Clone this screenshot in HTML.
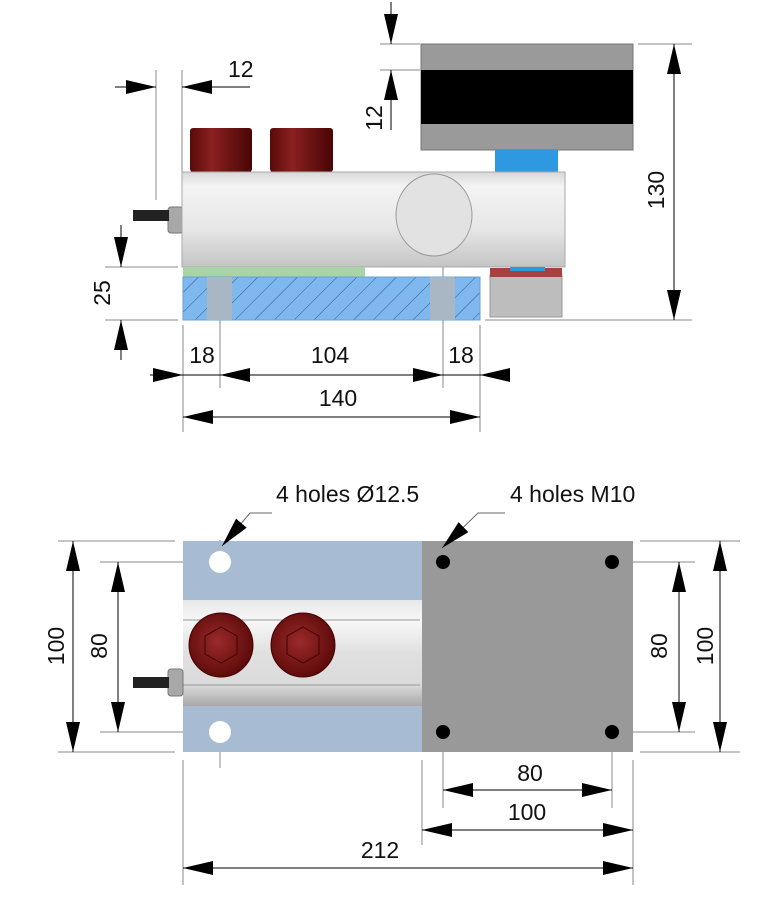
<!DOCTYPE html>
<html><head><meta charset="utf-8"><style>
html,body{margin:0;padding:0;background:#fff;width:768px;height:921px;overflow:hidden}
svg text{font-family:"Liberation Sans",sans-serif;font-size:23px;fill:#111}
</style></head><body>
<svg width="768" height="921" viewBox="0 0 768 921" xmlns="http://www.w3.org/2000/svg">
<defs>
<marker id="a" viewBox="0 0 10 10" refX="10" refY="5" markerUnits="userSpaceOnUse" markerWidth="30" markerHeight="14" orient="auto-start-reverse" preserveAspectRatio="none"><path d="M0,0 L10,5 L0,10 z" fill="#000"/></marker>
<linearGradient id="body" x1="0" y1="0" x2="0" y2="1"><stop offset="0" stop-color="#d8d8d8"/><stop offset="0.15" stop-color="#f4f4f4"/><stop offset="0.6" stop-color="#e6e6e6"/><stop offset="1" stop-color="#c4c4c4"/></linearGradient>
<linearGradient id="red" x1="0" y1="0" x2="1" y2="0"><stop offset="0" stop-color="#5a0a0a"/><stop offset="0.35" stop-color="#8a2020"/><stop offset="1" stop-color="#4a0505"/></linearGradient>
<linearGradient id="band" x1="0" y1="0" x2="0" y2="1"><stop offset="0" stop-color="#e8e8e8"/><stop offset="0.2" stop-color="#f7f7f7"/><stop offset="0.5" stop-color="#e0e0e0"/><stop offset="0.8" stop-color="#dadada"/><stop offset="1" stop-color="#a8a8a8"/></linearGradient>
<pattern id="hatch" width="14" height="14" patternUnits="userSpaceOnUse" patternTransform="rotate(45)"><rect width="14" height="14" fill="#7fb8ee"/><line x1="0" y1="0" x2="0" y2="14" stroke="#2d5a8a" stroke-width="1"/></pattern>
<radialGradient id="cap" cx="0.45" cy="0.45" r="0.6"><stop offset="0" stop-color="#9a2a2a"/><stop offset="1" stop-color="#5a0808"/></radialGradient>
</defs>
<g stroke="#888" stroke-width="1" fill="none">
<!-- top view extension lines -->
<line x1="156" y1="70" x2="156" y2="200"/><line x1="182" y1="70" x2="182" y2="172"/>
<line x1="380" y1="44" x2="420" y2="44"/><line x1="380" y1="70" x2="420" y2="70"/>
<line x1="638" y1="44" x2="692" y2="44"/><line x1="485" y1="320" x2="692" y2="320"/>
<line x1="105" y1="267" x2="178" y2="267"/><line x1="105" y1="320" x2="178" y2="320"/>
<line x1="183" y1="325" x2="183" y2="432"/><line x1="220" y1="262" x2="220" y2="388"/>
<line x1="443" y1="262" x2="443" y2="388"/><line x1="480" y1="325" x2="480" y2="432"/>
<!-- bottom view ext -->
<line x1="58" y1="541" x2="175" y2="541"/><line x1="58" y1="752" x2="175" y2="752"/>
<line x1="100" y1="562" x2="250" y2="562"/><line x1="100" y1="732" x2="250" y2="732"/>
<line x1="640" y1="541" x2="740" y2="541"/><line x1="640" y1="752" x2="740" y2="752"/>
<line x1="595" y1="562" x2="695" y2="562"/><line x1="595" y1="732" x2="695" y2="732"/>
<line x1="183" y1="760" x2="183" y2="885"/><line x1="422" y1="760" x2="422" y2="845"/>
<line x1="633" y1="760" x2="633" y2="885"/><line x1="443" y1="545" x2="443" y2="808"/>
<line x1="612" y1="545" x2="612" y2="808"/>
<line x1="220" y1="540" x2="220" y2="768"/>
</g>
<!-- TOP VIEW -->
<rect x="421" y="44" width="212" height="106" fill="#9a9a9a" stroke="#777"/>
<rect x="421" y="70" width="212" height="54" fill="#000"/>
<rect x="495" y="150" width="63" height="22" fill="#2e98e0"/>
<rect x="190" y="128" width="62" height="44" rx="3" fill="url(#red)"/>
<rect x="270" y="128" width="63" height="44" rx="3" fill="url(#red)"/>
<rect x="168" y="207" width="15" height="26" rx="3" fill="#a8a8a8" stroke="#777"/>
<rect x="133" y="210" width="36" height="11" fill="#222"/>
<rect x="182" y="172" width="383" height="95" fill="url(#body)" stroke="#aaa"/>
<ellipse cx="434" cy="215" rx="38" ry="41" fill="#e2e2e2" stroke="#999"/>
<rect x="183" y="267" width="182" height="10" fill="#a8d4a8"/>
<rect x="183" y="277" width="297" height="43" fill="url(#hatch)" stroke="#6aa0d0"/>
<rect x="207" y="277" width="25" height="43" fill="#a9b6c4"/>
<rect x="430" y="277" width="25" height="43" fill="#a9b6c4"/>
<rect x="490" y="275" width="72" height="42" fill="#bdbdbd" stroke="#999"/>
<rect x="490" y="268" width="72" height="9" fill="#a84040"/>
<rect x="510" y="267" width="35" height="4" fill="#2e98e0"/>
<!-- top dims -->
<g stroke="#000" stroke-width="1">
<line x1="115" y1="87" x2="156" y2="87" marker-end="url(#a)"/>
<line x1="250" y1="87" x2="182" y2="87" marker-end="url(#a)"/>
<line x1="391" y1="2" x2="391" y2="44" marker-end="url(#a)"/>
<line x1="391" y1="130" x2="391" y2="70" marker-end="url(#a)"/>
<line x1="674" y1="44" x2="674" y2="320" marker-start="url(#a)" marker-end="url(#a)"/>
<line x1="121" y1="225" x2="121" y2="267" marker-end="url(#a)"/>
<line x1="121" y1="360" x2="121" y2="320" marker-end="url(#a)"/>
<line x1="150" y1="375" x2="510" y2="375"/>
<line x1="150" y1="375" x2="183" y2="375" marker-end="url(#a)"/>
<line x1="330" y1="375" x2="220" y2="375" marker-end="url(#a)"/>
<line x1="330" y1="375" x2="443" y2="375" marker-end="url(#a)"/>
<line x1="510" y1="375" x2="480" y2="375" marker-end="url(#a)"/>
<line x1="183" y1="417" x2="480" y2="417" marker-start="url(#a)" marker-end="url(#a)"/>
</g>
<text x="228" y="77">12</text>
<text transform="translate(382,118) rotate(-90)" text-anchor="middle">12</text>
<text transform="translate(664,190) rotate(-90)" text-anchor="middle">130</text>
<text transform="translate(110,293) rotate(-90)" text-anchor="middle">25</text>
<text x="202" y="363" text-anchor="middle">18</text>
<text x="330" y="363" text-anchor="middle">104</text>
<text x="461" y="363" text-anchor="middle">18</text>
<text x="338" y="406" text-anchor="middle">140</text>
<!-- BOTTOM VIEW -->
<rect x="183" y="541" width="239" height="211" fill="#a7bcd2"/>
<rect x="183" y="600" width="239" height="106" fill="url(#band)"/>
<line x1="183" y1="620" x2="420" y2="620" stroke="#999"/>
<line x1="183" y1="685" x2="420" y2="685" stroke="#999"/>
<rect x="422" y="541" width="211" height="211" fill="#999"/>
<circle cx="220" cy="562" r="11" fill="#fff"/>
<circle cx="220" cy="732" r="11" fill="#fff"/>
<g fill="#000"><circle cx="443" cy="562" r="7"/><circle cx="612" cy="562" r="7"/><circle cx="443" cy="732" r="7"/><circle cx="612" cy="732" r="7"/></g>
<circle cx="221" cy="645" r="32" fill="url(#cap)" stroke="#400"/>
<circle cx="303" cy="645" r="32" fill="url(#cap)" stroke="#400"/>
<polygon points="221,627 237,636 237,654 221,663 205,654 205,636" fill="none" stroke="#400"/>
<polygon points="303,627 319,636 319,654 303,663 287,654 287,636" fill="none" stroke="#400"/>
<rect x="168" y="669" width="15" height="27" rx="3" fill="#a8a8a8" stroke="#777"/>
<rect x="133" y="677" width="36" height="11" fill="#222"/>
<g stroke="#000" stroke-width="1">
<line x1="73" y1="541" x2="73" y2="752" marker-start="url(#a)" marker-end="url(#a)"/>
<line x1="118" y1="562" x2="118" y2="732" marker-start="url(#a)" marker-end="url(#a)"/>
<line x1="679" y1="562" x2="679" y2="732" marker-start="url(#a)" marker-end="url(#a)"/>
<line x1="720" y1="541" x2="720" y2="752" marker-start="url(#a)" marker-end="url(#a)"/>
<line x1="443" y1="790" x2="612" y2="790" marker-start="url(#a)" marker-end="url(#a)"/>
<line x1="422" y1="830" x2="633" y2="830" marker-start="url(#a)" marker-end="url(#a)"/>
<line x1="183" y1="868" x2="633" y2="868" marker-start="url(#a)" marker-end="url(#a)"/>
<polyline points="272,513 250,513 222,546" fill="none" stroke="#666" marker-end="url(#a)"/>
<polyline points="505,513 478,513 442,548" fill="none" stroke="#666" marker-end="url(#a)"/>
</g>
<text x="276" y="502">4 holes Ø12.5</text>
<text x="510" y="502">4 holes M10</text>
<text transform="translate(64,646) rotate(-90)" text-anchor="middle">100</text>
<text transform="translate(107,646) rotate(-90)" text-anchor="middle">80</text>
<text transform="translate(667,646) rotate(-90)" text-anchor="middle">80</text>
<text transform="translate(713,646) rotate(-90)" text-anchor="middle">100</text>
<text x="530" y="781" text-anchor="middle">80</text>
<text x="527" y="820" text-anchor="middle">100</text>
<text x="380" y="858" text-anchor="middle">212</text>
</svg>
</body></html>
